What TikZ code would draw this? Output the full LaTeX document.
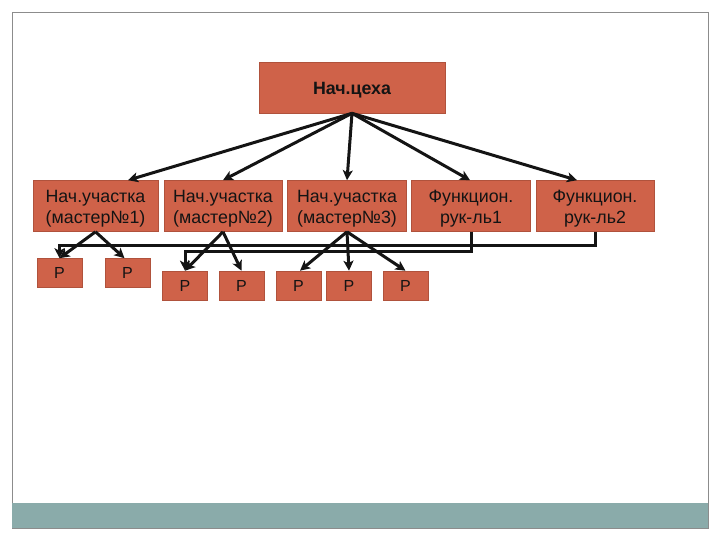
\documentclass[tikz,border=0pt]{standalone}
\usepackage{fontspec}
\setmainfont{Liberation Sans}
\usetikzlibrary{arrows.meta}
\definecolor{boxfill}{HTML}{CF6249}
\definecolor{boxline}{HTML}{B0523C}
\definecolor{band}{HTML}{8AABAA}
\definecolor{frame}{HTML}{8C8C8C}
\definecolor{txt}{HTML}{141414}
\tikzset{
  box/.style={rectangle, fill=boxfill, draw=boxline, line width=0.6pt,
    inner sep=0pt, minimum height=51pt},
  lbl/.style={align=center, inner sep=0pt, text=txt, yshift=-3pt,
    font=\fontsize{17.8}{21}\selectfont},
  toplbl/.style={lbl, font=\fontsize{17.8}{20}\selectfont\bfseries},
  pbox/.style={rectangle, fill=boxfill, draw=boxline, line width=0.6pt, text=txt,
    inner sep=0pt, minimum width=45pt, minimum height=29pt,
    font=\fontsize{16}{18}\selectfont},
  arr/.style={line width=3pt, draw=black!92, -{Stealth[length=10pt,width=10pt,inset=2.5pt]}},
}
\begin{document}
\begin{tikzpicture}[x=1pt,y=-1pt]
\useasboundingbox (0,0) rectangle (720,540);
\draw[frame, line width=0.8pt] (12,12.5) rectangle (708,528);
\fill[band] (12,503) rectangle (708,528);

\node[box, minimum width=186pt, label={[toplbl]center:Нач.цеха}] (top) at (352,87.5) {};

\node[box, minimum width=125pt, label={[lbl]center:Нач.участка\\(мастер№1)}] (b1) at (95.5,206) {};
\node[box, minimum width=118pt, label={[lbl]center:Нач.участка\\(мастер№2)}] (b2) at (223,206) {};
\node[box, minimum width=119pt, label={[lbl]center:Нач.участка\\(мастер№3)}] (b3) at (347,206) {};
\node[box, minimum width=119pt, label={[lbl]center:Функцион.\\рук-ль1}] (b4) at (471,206) {};
\node[box, minimum width=118pt, label={[lbl]center:Функцион.\\рук-ль2}] (b5) at (595,206) {};

\node[pbox] (p1) at (59.5,273) {Р};
\node[pbox] (p2) at (127.5,273) {Р};
\node[pbox] (p3) at (185,285.5) {Р};
\node[pbox] (p4) at (241.5,285.5) {Р};
\node[pbox] (p5) at (298.5,285.5) {Р};
\node[pbox] (p6) at (349,285.5) {Р};
\node[pbox] (p7) at (405.5,285.5) {Р};

\draw[arr] (top.south) -- ([xshift=32.5pt]b1.north);
\draw[arr] (top.south) -- (b2.north);
\draw[arr] (top.south) -- (b3.north);
\draw[arr] (top.south) -- ([xshift=-1pt]b4.north);
\draw[arr] (top.south) -- ([xshift=-18pt]b5.north);

\draw[arr] (b1.south) -- (p1.north);
\draw[arr] (b1.south) -- ([xshift=-3pt]p2.north);
\draw[arr] (b2.south) -- (p3.north);
\draw[arr] (b2.south) -- (p4.north);
\draw[arr] (b3.south) -- ([xshift=1.5pt]p5.north);
\draw[arr] (b3.south) -- (p6.north);
\draw[arr] (b3.south) -- (p7.north);

\draw[arr] (b5.south) |- ([yshift=13pt]p1.north) -- (p1.north);
\draw[arr] (b4.south) |- ([yshift=19pt]p3.north) -- (p3.north);
\end{tikzpicture}
\end{document}
